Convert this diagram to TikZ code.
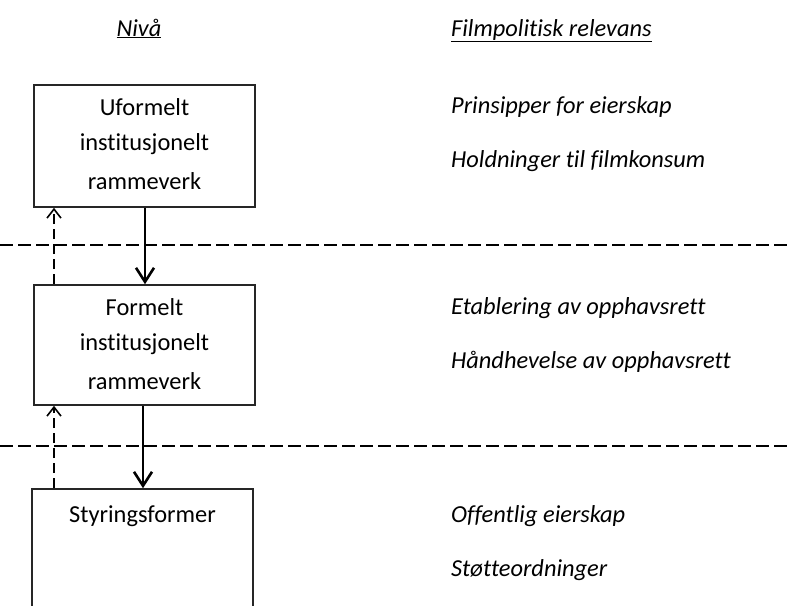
\documentclass[tikz,border=0pt]{standalone}
\usepackage{fontspec}
\setmainfont[Ligatures=NoCommon]{Carlito}
\usetikzlibrary{arrows.meta}
\begin{document}
\begin{tikzpicture}[x=1pt,y=-1pt,
  lvlbox/.style={draw=black!85,line width=1.6pt,rectangle,inner sep=0pt},
  boxtxt/.style={font=\fontsize{24.4}{24.4}\selectfont,anchor=center,inner sep=0pt},
  reltxt/.style={font=\fontsize{24.4}{24.4}\selectfont\itshape,anchor=west,inner sep=0pt},
  headtxt/.style={font=\fontsize{24.4}{24.4}\selectfont\itshape,anchor=base,inner sep=0pt},
  sep/.style={line width=1.4pt,dash pattern=on 13pt off 5pt},
  down/.style={line width=2.9pt,-{Straight Barb[length=14pt,width=18pt,line width=2.6pt]}},
  up/.style={line width=1.6pt,dash pattern=on 10pt off 5pt,-{Straight Barb[length=9pt,width=14pt,line width=1.6pt]}}
]
\useasboundingbox (0,0) rectangle (789,605);
\clip (0,0) rectangle (789,605);
% headers
\node[headtxt] (hniva) at (139,36) {\underline{Nivå}};
\node[headtxt,anchor=base west] (hrel) at (451,36) {\underline{Filmpolitisk relevans}};
% dashed separators
\coordinate (s1l) at (0,245); \coordinate (s1r) at (789,245);
\coordinate (s2l) at (0,446); \coordinate (s2r) at (789,446);
\draw[sep] (s1l) -- (s1r);
\draw[sep] (s2l) -- (s2r);
% boxes
\node[lvlbox,minimum width=221pt,minimum height=122pt] (b1) at (144.5,146) {};
\node[lvlbox,minimum width=221pt,minimum height=120pt] (b2) at (144.5,345) {};
\node[lvlbox,minimum width=221pt,minimum height=140pt] (b3) at (142.5,559) {};
% box texts
\node[boxtxt] (t11) at (144.5,107) {Uformelt};
\node[boxtxt] (t12) at (144.5,144) {institusjonelt};
\node[boxtxt] (t13) at (144.5,181) {rammeverk};
\node[boxtxt] (t21) at (144.5,307) {Formelt};
\node[boxtxt] (t22) at (144.5,344) {institusjonelt};
\node[boxtxt] (t23) at (144.5,381) {rammeverk};
\node[boxtxt] (t31) at (142.5,516) {Styringsformer};
% relevance texts
\node[reltxt] (r1) at (451,107) {Prinsipper for eierskap};
\node[reltxt] (r2) at (451,161) {Holdninger til filmkonsum};
\node[reltxt] (r3) at (451,308) {Etablering av opphavsrett};
\node[reltxt] (r4) at (451,362) {Håndhevelse av opphavsrett};
\node[reltxt] (r5) at (451,516) {Offentlig eierskap};
\node[reltxt] (r6) at (451,570) {Støtteordninger};
% arrows
\draw[down] (b1.south -| 145,0) -- (b2.north -| 145,0);
\draw[down] (b2.south -| 143,0) -- (b3.north -| 143,0);
\draw[up] (b2.north -| 54,0) -- (b1.south -| 54,0);
\draw[up] (b3.north -| 54,0) -- (b2.south -| 54,0);
\end{tikzpicture}
\end{document}
